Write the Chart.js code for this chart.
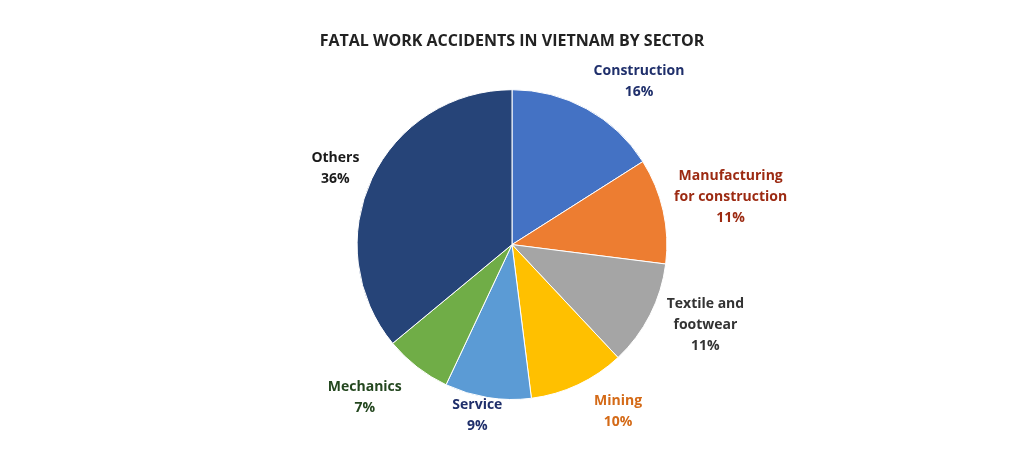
<!DOCTYPE html>
<html>
<head>
<meta charset="utf-8">
<script src="https://cdn.jsdelivr.net/npm/chart.js@4.4.1/dist/chart.umd.min.js"></script>
<style>
  html, body { margin: 0; padding: 0; background: #fff; }
  #wrap { width: 1024px; height: 467px; }
</style>
</head>
<body>
<div id="wrap"><canvas id="pieChart"></canvas></div>
<script>
// Dados do gráfico
const sectors = ['Construction', 'Manufacturing for construction', 'Textile and footwear', 'Mining', 'Service', 'Mechanics', 'Others'];
const shares = [16, 11, 11, 10, 9, 7, 36];
const sliceColors = ['#4472C4', '#ED7D31', '#A5A5A5', '#FFC000', '#5B9BD5', '#70AD47', '#264478'];
const labelLines = [['Construction'], ['Manufacturing', 'for construction'], ['Textile and', 'footwear'], ['Mining'], ['Service'], ['Mechanics'], ['Others']];
const labelColors = ['#1F2F6B', '#9C2A12', '#333333', '#D46A17', '#1F2F6B', '#24471F', '#1A1A1A'];

// Ajustes de posição dos rótulos (distância radial e deslocamento)
const labelDist = [1.30, 1.42, 1.30, 1.26, 1.10, 1.34, 1.26];
const labelShift = [[30, 13], [4, 0], [14, -11], [23, -10], [-8, 3], [-20, -11], [0, 7]];

// Plugin para desenhar os rótulos fora das fatias
const outsideLabels = {
    id: 'outsideLabels',
    afterDatasetsDraw(chart) {
        const ctx = chart.ctx;
        const meta = chart.getDatasetMeta(0);
        ctx.save();
        ctx.font = 'bold 14px "Open Sans", sans-serif';
        ctx.textAlign = 'center';
        ctx.textBaseline = 'middle';
        meta.data.forEach((arc, i) => {
            const p = arc.getProps(['x', 'y', 'startAngle', 'endAngle', 'outerRadius'], true);
            const mid = (p.startAngle + p.endAngle) / 2;
            const r = p.outerRadius * labelDist[i];
            const cx = p.x + Math.cos(mid) * r + labelShift[i][0];
            const cy = p.y + Math.sin(mid) * r + labelShift[i][1];
            const lines = labelLines[i].concat([shares[i] + '%']);
            const lh = 21;
            const top = cy - (lines.length - 1) * lh / 2;
            ctx.fillStyle = labelColors[i];
            lines.forEach((t, k) => ctx.fillText(t, cx, top + k * lh));
        });
        ctx.restore();
    }
};

const ctx = document.getElementById('pieChart').getContext('2d');
const pieChart = new Chart(ctx, {
    type: 'pie',
    data: {
        labels: sectors,
        datasets: [{
            data: shares,
            backgroundColor: sliceColors,
            borderColor: '#ffffff',
            borderWidth: 1
        }]
    },
    options: {
        responsive: true,
        maintainAspectRatio: false,
        animation: false,
        layout: { padding: { top: 0, bottom: 67 } },
        plugins: {
            legend: { display: false },
            tooltip: { enabled: false },
            title: {
                display: true,
                text: 'FATAL WORK ACCIDENTS IN VIETNAM BY SECTOR',
                color: '#222222',
                font: { family: '"Open Sans", sans-serif', size: 16, weight: 'bold' },
                padding: { top: 32, bottom: 38 }
            }
        }
    },
    plugins: [outsideLabels]
});
</script>
</body>
</html>
